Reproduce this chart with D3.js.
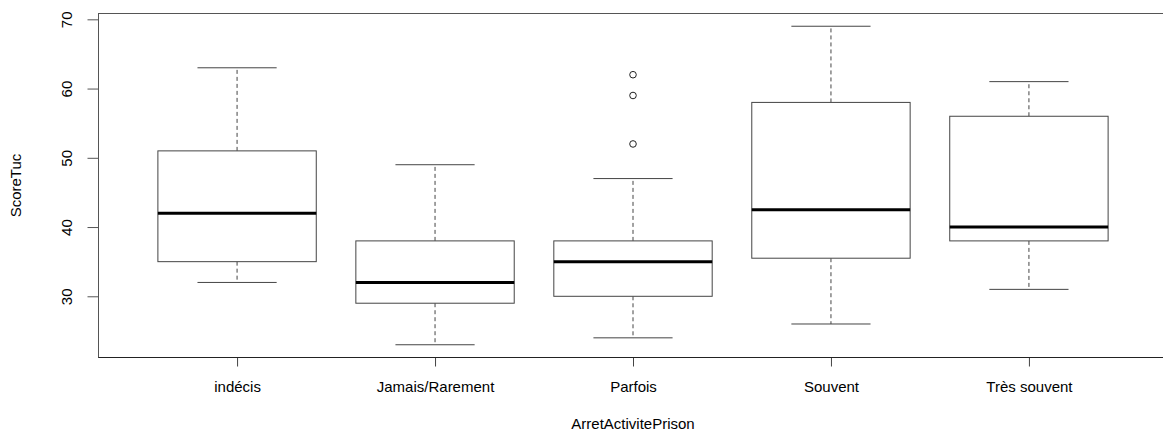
<!DOCTYPE html>
<html>
<head>
<meta charset="utf-8">
<script src="https://cdn.jsdelivr.net/npm/d3@7"></script>
<style>
  body { margin: 0; background: #fff; }
  text { font-family: "Liberation Sans", Arial, sans-serif; fill: #000; }
</style>
</head>
<body>
<div id="container"></div>
<script>
const categories = ["indécis", "Jamais/Rarement", "Parfois", "Souvent", "Très souvent"]
const whiskerLow = [32, 23, 24, 26, 31]
const q1 = [35, 29, 30, 35.5, 38]
const medians = [42, 32, 35, 42.5, 40]
const q3 = [51, 38, 38, 58, 56]
const whiskerHigh = [63, 49, 47, 69, 61]
const outliers = [[], [], [62, 59, 52], [], []]
const yTicks = [30, 40, 50, 60, 70]

const width = 1163
const height = 433
const plotLeft = 98.5, plotRight = 1167.5, plotTop = 13.5, plotBottom = 357.5

const svg = d3.create("svg")
    .attr("width", width)
    .attr("height", height)

const x = d3.scaleLinear()
    .domain([0.3, categories.length + 0.7])
    .range([plotLeft, plotRight])

const y = d3.scaleLinear()
    .domain([21.16, 70.84])
    .range([plotBottom, plotTop])

// R default: box width 0.8, staples half the box
const boxW = x(1.8) - x(1)
const stapleW = boxW / 2

const boxes = categories.map((c, i) => ({
    name: c, pos: i + 1,
    lo: whiskerLow[i], q1: q1[i], med: medians[i], q3: q3[i], hi: whiskerHigh[i],
    out: outliers[i]
}))

const g = svg.append("g")

// whiskers (dashed)
g.selectAll(".whisker-up")
    .data(boxes)
    .enter()
    .append("line")
    .attr("x1", d => x(d.pos)).attr("x2", d => x(d.pos))
    .attr("y1", d => y(d.q3)).attr("y2", d => y(d.hi))
    .attr("stroke", "#444").attr("stroke-dasharray", "4,3")

g.selectAll(".whisker-down")
    .data(boxes)
    .enter()
    .append("line")
    .attr("x1", d => x(d.pos)).attr("x2", d => x(d.pos))
    .attr("y1", d => y(d.q1)).attr("y2", d => y(d.lo))
    .attr("stroke", "#444").attr("stroke-dasharray", "4,3")

// staples
g.selectAll(".staple-hi")
    .data(boxes)
    .enter()
    .append("line")
    .attr("x1", d => x(d.pos) - stapleW / 2).attr("x2", d => x(d.pos) + stapleW / 2)
    .attr("y1", d => y(d.hi)).attr("y2", d => y(d.hi))
    .attr("stroke", "#444")

g.selectAll(".staple-lo")
    .data(boxes)
    .enter()
    .append("line")
    .attr("x1", d => x(d.pos) - stapleW / 2).attr("x2", d => x(d.pos) + stapleW / 2)
    .attr("y1", d => y(d.lo)).attr("y2", d => y(d.lo))
    .attr("stroke", "#444")

// boxes
g.selectAll(".box")
    .data(boxes)
    .enter()
    .append("rect")
    .attr("x", d => x(d.pos) - boxW / 2)
    .attr("y", d => y(d.q3))
    .attr("width", boxW)
    .attr("height", d => y(d.q1) - y(d.q3))
    .attr("fill", "#fff")
    .attr("stroke", "#444")

// medians
g.selectAll(".median")
    .data(boxes)
    .enter()
    .append("line")
    .attr("x1", d => x(d.pos) - boxW / 2).attr("x2", d => x(d.pos) + boxW / 2)
    .attr("y1", d => y(d.med)).attr("y2", d => y(d.med))
    .attr("stroke", "#000").attr("stroke-width", 3)

// outliers
g.selectAll(".outlier")
    .data(boxes.flatMap(d => d.out.map(v => ({pos: d.pos, v}))))
    .enter()
    .append("circle")
    .attr("cx", d => x(d.pos))
    .attr("cy", d => y(d.v))
    .attr("r", 3.3)
    .attr("fill", "none")
    .attr("stroke", "#222")

// frame
svg.append("rect")
    .attr("x", plotLeft).attr("y", plotTop)
    .attr("width", plotRight - plotLeft).attr("height", plotBottom - plotTop)
    .attr("fill", "none")
    .attr("stroke", "#555")

// y axis
const yAxis = svg.append("g")
    .attr("transform", `translate(${plotLeft},0)`)
    .call(d3.axisLeft(y).tickValues(yTicks).tickSize(11).tickFormat(d3.format("d")))
yAxis.select(".domain").remove()
yAxis.append("line")
    .attr("y1", y(30)).attr("y2", y(70))
    .attr("stroke", "#555")
yAxis.selectAll(".tick line").attr("stroke", "#555")
yAxis.selectAll(".tick text")
    .attr("x", null).attr("dy", null)
    .attr("text-anchor", "middle")
    .attr("transform", "translate(-26.5,0) rotate(-90)")
    .style("font-size", "15px")
    .style("font-family", "Liberation Sans, Arial, sans-serif")
    .attr("fill", "#000")

// x axis
const xAxis = svg.append("g")
    .attr("transform", `translate(0,${plotBottom})`)
    .call(d3.axisBottom(x).tickValues(boxes.map(d => d.pos)).tickSize(9)
        .tickFormat((d, i) => categories[i]))
xAxis.select(".domain").remove()
xAxis.append("line")
    .attr("x1", plotLeft).attr("x2", plotRight)
    .attr("stroke", "#222")
xAxis.selectAll(".tick line").attr("stroke", "#444")
xAxis.selectAll(".tick text")
    .attr("y", 34.5).attr("dy", null)
    .style("font-size", "15px")
    .style("font-family", "Liberation Sans, Arial, sans-serif")
    .attr("fill", "#000")

// axis titles
svg.append("text")
    .attr("x", x((1 + categories.length) / 2))
    .attr("y", 429)
    .attr("text-anchor", "middle")
    .style("font-size", "15px")
    .text("ArretActivitePrison")

svg.append("text")
    .attr("transform", `translate(21,${(plotTop + plotBottom) / 2}) rotate(-90)`)
    .attr("text-anchor", "middle")
    .style("font-size", "15px")
    .text("ScoreTuc")

document.querySelector("#container").appendChild(svg.node())
</script>
</body>
</html>
